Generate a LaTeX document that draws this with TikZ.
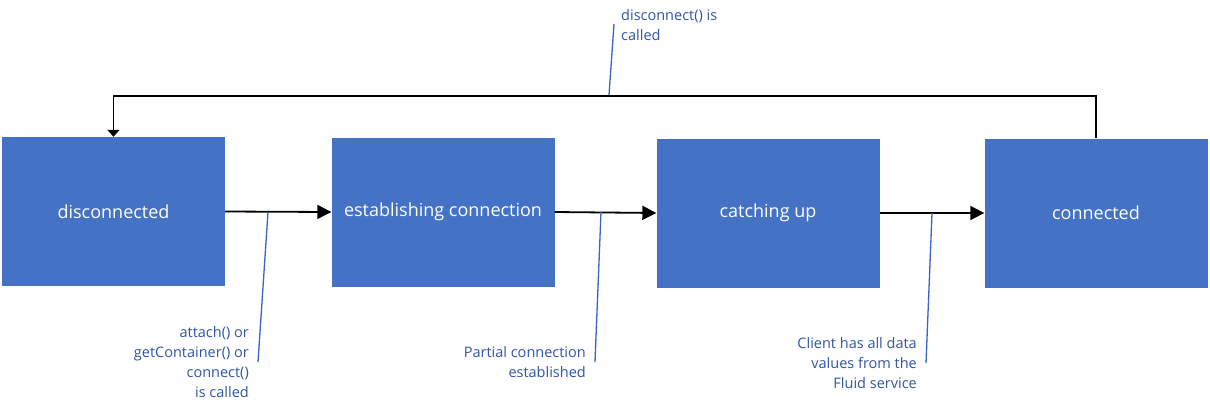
\documentclass[tikz,border=0pt]{standalone}
\usepackage{fontspec}
\setmainfont{Open Sans}
\usetikzlibrary{arrows.meta}
\definecolor{boxblue}{RGB}{68,114,196}
\definecolor{labtext}{RGB}{47,85,165}
\definecolor{labline}{RGB}{58,100,196}
\tikzset{
  x=1pt, y=-1pt,
  state/.style={draw=none, fill=boxblue, text=white, minimum width=223pt, minimum height=149pt,
    inner sep=0pt, font=\fontsize{18}{22}\selectfont},
  trans/.style={line width=1.8pt, -{Triangle[length=14pt,width=14pt]}},
  back/.style={line width=1.6pt, -{Triangle[length=7pt,width=12pt]}},
  lab/.style={text=labtext, font=\fontsize{14.5}{20}\selectfont, inner sep=0pt},
  labrule/.style={draw=labline, line width=1.3pt},
}
\begin{document}
\begin{tikzpicture}
\useasboundingbox (0,0) rectangle (1210,410);
\node[state] (disc) at (113.5,211.5) {disconnected};
\node[state] (est) at (443,212) {establishing connection};
\node[state] (catch) at (768,213) {catching up};
\node[state] (conn) at (1096,213) {connected};

\draw[trans] (disc.east) -- (est.west);
\draw[trans] (est.east) -- (catch.west);
\draw[trans] (catch.east) -- (conn.west);

\coordinate (fb) at (113.5,96);
\draw[back] (conn.north) |- (fb) -- (disc.north);

% annotation labels
\node[lab, anchor=west, align=left] (l0) at (621,25) {disconnect() is\\called};
\node[lab, anchor=east, align=right] (l1) at (249,362) {attach() or\\getContainer() or\\connect()\\is called};
\node[lab, anchor=east, align=right] (l2) at (586,362) {Partial connection\\established};
\node[lab, anchor=east, align=right] (l3) at (917,363) {Client has all data\\values from the\\Fluid service};

\coordinate (p0) at (609,95);
\coordinate (p1) at (268,212);
\coordinate (p2) at (601,212);
\coordinate (p3) at (932,213);
\coordinate (e0) at (614,24);
\coordinate (e1) at (258,362);
\coordinate (e2) at (595,362);
\coordinate (e3) at (926,363);
\draw[labrule] (p0) -- (e0);
\draw[labrule] (p1) -- (e1);
\draw[labrule] (p2) -- (e2);
\draw[labrule] (p3) -- (e3);
\end{tikzpicture}
\end{document}
